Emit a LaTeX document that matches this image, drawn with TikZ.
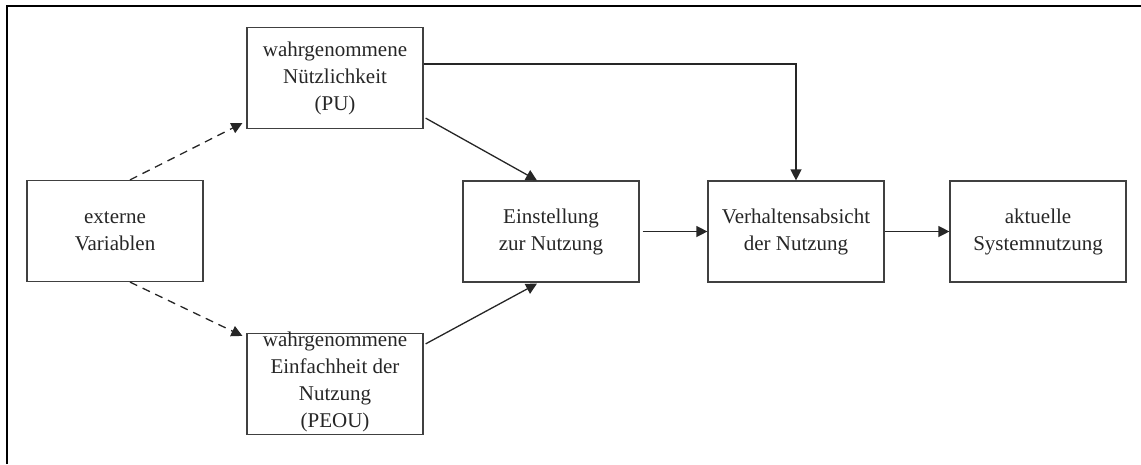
\documentclass[tikz,border=0pt]{standalone}
\usepackage{fontspec}
\setmainfont{Liberation Serif}
\usetikzlibrary{arrows.meta,calc}
\tikzset{
  box/.style={draw=black!75, line width=1.2pt, minimum width=176pt, minimum height=101pt, inner sep=0pt, align=center, text=black!85, font=\fontsize{21}{27}\selectfont},
  txt/.style={inner sep=0pt, align=center, text=black!85, font=\fontsize{21}{27}\selectfont},
  conn/.style={draw=black!85, line width=1.3pt, -{Triangle[length=11pt,width=11pt]}},
  dconn/.style={conn, dash pattern=on 8pt off 6pt},
}
\begin{document}
\begin{tikzpicture}[x=1pt,y=-1pt]
\useasboundingbox (0,0) rectangle (1141,464);
\draw[line width=2pt] (7,464) -- (7,6) -- (1141,6);
\node[box] (ext) at (115,231) {externe\\Variablen};
\node[box] (pu) at (335,78) {wahrgenommene\\Nützlichkeit\\(PU)};
\node[box] (peou) at (335,384) {};
\node[txt] (peoutxt) at (335,382) {wahrgenommene\\Einfachheit der\\Nutzung\\(PEOU)};
\node[box] (ein) at (551,231.5) {Einstellung\\zur Nutzung};
\node[box] (ver) at (796,231.5) {Verhaltensabsicht\\der Nutzung};
\node[box] (akt) at (1038,231.5) {aktuelle\\Systemnutzung};
\draw[dconn] ($(ext.north)+(15,0)$) -- ($(pu.south west)+(-4,-6)$);
\draw[dconn] ($(ext.south)+(15,0)$) -- ($(peou.north west)+(-4,3)$);
\draw[conn] ($(pu.south east)+(2,-11)$) -- ($(ein.north)+(-14,0)$);
\draw[conn] ($(peou.north east)+(2,11)$) -- ($(ein.south)+(-14,1)$);
\draw[conn] ($(pu.east)+(0,-14)$) -| (ver.north);
\draw[conn] ($(ein.east)+(3,0)$) -- (ver.west);
\draw[conn] (ver.east) -- (akt.west);
\end{tikzpicture}
\end{document}
